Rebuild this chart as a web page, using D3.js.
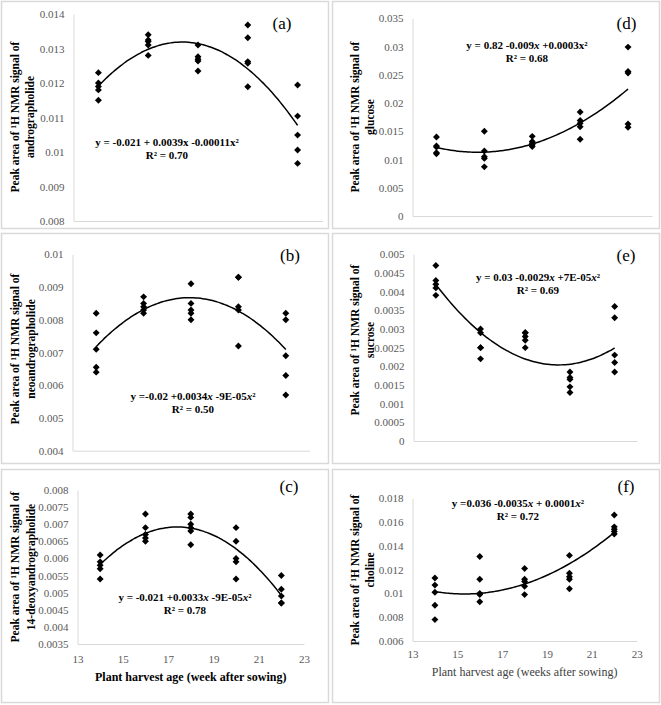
<!DOCTYPE html>
<html><head><meta charset="utf-8">
<script src="https://cdn.jsdelivr.net/npm/d3@7"></script>
<style>
html,body{margin:0;padding:0;background:#fff;}
svg{display:block;}
svg text{font-family:"Liberation Serif","Times New Roman",Times,"DejaVu Serif",serif !important;}
</style></head>
<body>
<svg id="chart" width="661" height="705"></svg>
<script>
// ---------- DATA ----------
const weeks = [14, 16, 18, 20, 22];
const xTickLabels = ["13", "15", "17", "19", "21", "23"];

const andrographolide = [
  [0.0123, 0.0120, 0.0119, 0.0118, 0.0115],
  [0.0134, 0.01325, 0.0132, 0.0131, 0.0128],
  [0.0131, 0.01276, 0.01269, 0.01264, 0.01235],
  [0.01368, 0.01331, 0.01262, 0.01257, 0.01189],
  [0.01194, 0.01104, 0.01049, 0.01006, 0.00967]
];
const neoandrographolide = [
  [0.0082, 0.0076, 0.0071, 0.00655, 0.0064],
  [0.0087, 0.0085, 0.0084, 0.0083, 0.0082],
  [0.0091, 0.0085, 0.0083, 0.0082, 0.0080],
  [0.0093, 0.0093, 0.0084, 0.0083, 0.0072],
  [0.0082, 0.0080, 0.0069, 0.0063, 0.0057]
];
const deoxyandrographolide = [
  [0.0061, 0.0059, 0.0058, 0.0057, 0.0054],
  [0.0073, 0.0069, 0.0067, 0.0066, 0.0065],
  [0.0073, 0.0072, 0.0070, 0.0069, 0.0068, 0.0064],
  [0.0069, 0.0065, 0.0060, 0.0059, 0.0054],
  [0.0055, 0.0051, 0.0049, 0.0047, 0.0047]
];
const glucose = [
  [0.0140, 0.0124, 0.0122, 0.0112, 0.0110],
  [0.0150, 0.0115, 0.0105, 0.0102, 0.0087],
  [0.0141, 0.0132, 0.0129, 0.0126, 0.0123],
  [0.0184, 0.0169, 0.0164, 0.0158, 0.0136],
  [0.0299, 0.0256, 0.0253, 0.0163, 0.0157]
];
const sucrose = [
  [0.0047, 0.0043, 0.0042, 0.0041, 0.0039],
  [0.0030, 0.0029, 0.0025, 0.0025, 0.0022],
  [0.0029, 0.0029, 0.0028, 0.0027, 0.0025],
  [0.00185, 0.0017, 0.00165, 0.00145, 0.0013],
  [0.0036, 0.0033, 0.0023, 0.0021, 0.00185]
];
const choline = [
  [0.0113, 0.0107, 0.0101, 0.0090, 0.0078],
  [0.0131, 0.0112, 0.0100, 0.0099, 0.0093],
  [0.0121, 0.0112, 0.0110, 0.0106, 0.0099],
  [0.0132, 0.0117, 0.0114, 0.0112, 0.0104],
  [0.0166, 0.0156, 0.0154, 0.0152, 0.0150]
];

const yTicksA = ["0.008","0.009","0.01","0.011","0.012","0.013","0.014"];
const yTicksB = ["0.004","0.005","0.006","0.007","0.008","0.009","0.01"];
const yTicksC = ["0.0035","0.004","0.0045","0.005","0.0055","0.006","0.0065","0.007","0.0075","0.008"];
const yTicksD = ["0","0.005","0.01","0.015","0.02","0.025","0.03","0.035"];
const yTicksE = ["0","0.0005","0.001","0.0015","0.002","0.0025","0.003","0.0035","0.004","0.0045","0.005"];
const yTicksF = ["0.006","0.008","0.01","0.012","0.014","0.016","0.018"];

const compounds = ["andrographolide","neoandrographolide","14-deoxyandrographolide","glucose","sucrose","choline"];
const panelLetters = ["(a)","(b)","(c)","(d)","(e)","(f)"];
// equation segments: [text, italic]
const equations = [
  [["y = -0.021 + 0.0039x -0.00011x",0],["²",0]],
  [["y =-0.02 +0.0034",0],["x",1],[" -9E-05",0],["x",1],["²",0]],
  [["y = -0.021 +0.0033",0],["x",1],[" -9E-05",0],["x",1],["²",0]],
  [["y = 0.82 -0.009",0],["x",1],[" +0.0003x",0],["²",0]],
  [["y = 0.03 -0.0029",0],["x",1],[" +7E-05",0],["x",1],["²",0]],
  [["y =0.036 -0.0035",0],["x",1],[" + 0.0001",0],["x",1],["²",0]]
];
const r2Labels = ["R² = 0.70","R² = 0.50","R² = 0.78","R² = 0.68","R² = 0.69","R² = 0.72"];
const xTitles = [null, null, "Plant harvest age (week after sowing)", null, null, "Plant harvest age (weeks after sowing)"];

// ---------- LAYOUT ----------
const panels = [
  {data: andrographolide, ticks: yTicksA, box:[1,1,327,227], x:[73.5,322.5], y:[221,14], lab:[282,23], eq:[167,142], ttl:[15,30,117]},
  {data: neoandrographolide, ticks: yTicksB, box:[1,233,327,230], x:[72.5,309.5], y:[450.7,254.3], lab:[290,255], eq:[193,396], ttl:[15,30.5,349]},
  {data: deoxyandrographolide, ticks: yTicksC, box:[1,469,327,233], x:[77.5,304], y:[644,490], lab:[289,486], eq:[185,597], ttl:[15,30.5,567], xl:659, xt:677, xtBold:true},
  {data: glucose, ticks: yTicksD, box:[332,1,327,227], x:[412.5,652], y:[216,18.3], lab:[626.5,23], eq:[527,45], ttl:[355,369.5,117]},
  {data: sucrose, ticks: yTicksE, box:[332,233,327,230], x:[413.5,637], y:[441,254.3], lab:[626,255], eq:[538,277], ttl:[355,369.5,340]},
  {data: choline, ticks: yTicksF, box:[332,469,327,233], x:[412.5,636.7], y:[641,498.3], lab:[626,486], eq:[518,503], ttl:[355,370,570], xl:654, xt:672, xtBold:false}
];

function quadFit(xs, ys){
  let S=[0,0,0,0,0], T=[0,0,0];
  xs.forEach((x,i)=>{ let p=1; for(let k=0;k<5;k++){S[k]+=p; if(k<3) T[k]+=p*ys[i]; p*=x;} });
  const M=[[S[0],S[1],S[2],T[0]],[S[1],S[2],S[3],T[1]],[S[2],S[3],S[4],T[2]]];
  for(let c=0;c<3;c++){
    let piv=c; for(let r=c+1;r<3;r++) if(Math.abs(M[r][c])>Math.abs(M[piv][c])) piv=r;
    [M[c],M[piv]]=[M[piv],M[c]];
    for(let r=0;r<3;r++){ if(r===c) continue; const f=M[r][c]/M[c][c]; for(let k=c;k<4;k++) M[r][k]-=f*M[c][k]; }
  }
  return [M[0][3]/M[0][0], M[1][3]/M[1][1], M[2][3]/M[2][2]];
}

const FONT = "Liberation Serif, Times New Roman, Times, DejaVu Serif, serif";
const svg = d3.select("#chart").attr("font-family", FONT);
const axisColor = "#d9d9d9", tickColor = "#595959";

panels.forEach((p,i)=>{
  const g = svg.append("g");
  g.append("rect").attr("x",p.box[0]+0.5).attr("y",p.box[1]+0.5).attr("width",p.box[2]).attr("height",p.box[3])
    .attr("fill","#fff").attr("stroke",axisColor).attr("stroke-width",1.5);

  const tv = p.ticks.map(Number);
  const x = d3.scaleLinear().domain([13,23]).range(p.x);
  const y = d3.scaleLinear().domain([tv[0], tv[tv.length-1]]).range(p.y);

  // axes
  const yAx = d3.axisLeft(y).tickValues(tv).tickFormat((d,k)=>p.ticks[k]).tickSize(0).tickPadding(9);
  const ya = g.append("g").attr("transform",`translate(${p.x[0]},0)`).call(yAx).attr("font-family", FONT);
  ya.select(".domain").attr("stroke",axisColor).attr("stroke-width",1);
  ya.selectAll("text").attr("font-size",11).attr("fill",tickColor);

  const xAx = d3.axisBottom(x).tickValues(xTickLabels.map(Number)).tickFormat((d,k)=>xTickLabels[k]).tickSize(0).tickPadding(9);
  const xa = g.append("g").attr("transform",`translate(0,${p.y[0]})`).call(xAx).attr("font-family", FONT);
  xa.select(".domain").attr("stroke",axisColor).attr("stroke-width",1);
  if(p.xl){ xa.selectAll("text").attr("font-size",11).attr("fill",tickColor).attr("dy",null).attr("y",p.xl - p.y[0]).attr("dominant-baseline","central"); }
  else xa.selectAll(".tick").remove();

  // points
  const pts = [];
  p.data.forEach((arr,k)=>arr.forEach(v=>pts.push([weeks[k], v])));
  const sym = d3.symbol().type(d3.symbolSquare).size(24);
  g.selectAll("path.pt").data(pts).join("path").attr("class","pt")
    .attr("d",sym).attr("fill","#000")
    .attr("transform",d=>`translate(${x(d[0])},${y(d[1])}) rotate(45)`);

  // trendline (least-squares quadratic from data)
  const c = quadFit(pts.map(d=>d[0]), pts.map(d=>d[1]));
  const xs = d3.range(weeks[0], weeks[weeks.length-1]+0.001, 0.1);
  const line = d3.line().x(d=>x(d)).y(d=>y(c[0]+c[1]*d+c[2]*d*d)).curve(d3.curveBasis);
  g.append("path").attr("d",line(xs)).attr("fill","none").attr("stroke","#000").attr("stroke-width",1.5);

  // panel letter
  g.append("text").attr("x",p.lab[0]).attr("y",p.lab[1]).attr("text-anchor","middle").attr("dominant-baseline","central")
    .attr("font-size",17).attr("fill","#000").text(panelLetters[i]);

  // equation
  const eq = g.append("text").attr("x",p.eq[0]).attr("y",p.eq[1]).attr("text-anchor","middle").attr("dominant-baseline","central")
    .attr("font-size",11).attr("font-weight","bold").attr("fill","#000");
  equations[i].forEach(s=>eq.append("tspan").attr("font-style",s[1]?"italic":"normal").text(s[0]));
  g.append("text").attr("x",p.eq[0]).attr("y",p.eq[1]+13).attr("text-anchor","middle").attr("dominant-baseline","central")
    .attr("font-size",11).attr("font-weight","bold").attr("fill","#000").text(r2Labels[i]);

  // y title
  [["Peak area of ¹H NMR signal of",p.ttl[0]],[compounds[i],p.ttl[1]]].forEach(t=>{
    g.append("text").attr("transform",`translate(${t[1]},${p.ttl[2]}) rotate(-90)`)
      .attr("text-anchor","middle").attr("dominant-baseline","central")
      .attr("font-size",11.5).attr("font-weight","bold").attr("fill","#000").text(t[0]);
  });

  if(xTitles[i]){
    g.append("text").attr("x",(p.x[0]+p.x[1])/2).attr("y",p.xt).attr("text-anchor","middle").attr("dominant-baseline","central")
      .attr("font-size",12).attr("font-weight",p.xtBold?"bold":"normal").attr("fill",p.xtBold?"#000":"#404040").text(xTitles[i]);
  }
});
</script>
</body></html>
